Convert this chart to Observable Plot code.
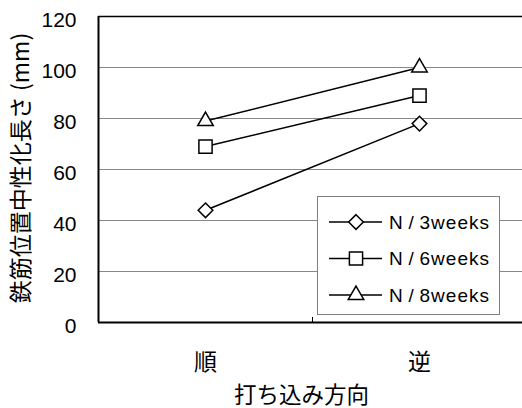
<!DOCTYPE html>
<html>
<head>
<meta charset="utf-8">
<script src="https://cdn.jsdelivr.net/npm/d3@7"></script>
<script src="https://cdn.jsdelivr.net/npm/@observablehq/plot@0.6"></script>
<style>
  html, body { margin: 0; padding: 0; background: #fff; }
  #chart svg { display: block; }
</style>
</head>
<body>
<div id="chart"></div>
<script>
// categories on the x axis
const categories = ["順", "逆"];
// series names
const series = ["N/3weeks", "N/6weeks", "N/8weeks"];
// series values (mm), one per category
const n3weeks = [44, 78];
const n6weeks = [69, 89];
const n8weeks = [79, 100];
// y tick labels
const yTicks = [0, 20, 40, 60, 80, 100, 120];
const yLabel = "鉄筋位置中性化長さ (mm)";
const xLabel = "打ち込み方向";

const seriesValues = [n3weeks, n6weeks, n8weeks];
const symbols = ["diamond2", "square2", "triangle2"];
const symbolR = [6.6, 8.4, 7.4];

const rows = [];
series.forEach((s, si) => {
  categories.forEach((c, ci) => {
    rows.push({series: s, cat: c, value: seriesValues[si][ci]});
  });
});
const xPos = d => categories.indexOf(d.cat) + 0.5;

const numFont = "'Liberation Sans', Arial, sans-serif";
const cjkFont = "'Noto Sans CJK JP', 'Noto Sans CJK SC', sans-serif";

const chart = Plot.plot({
  width: 522,
  height: 408,
  marginLeft: 98,
  marginRight: 0,
  marginTop: 16,
  marginBottom: 86,
  style: {background: "#fff", fontFamily: numFont, color: "#000"},
  x: {type: "linear", domain: [0, categories.length], range: [98, 526]},
  y: {domain: [0, 120], range: [322, 16]},
  symbol: {domain: series, range: symbols},
  marks: [
    Plot.ruleY(yTicks.filter(v => v > 0 && v < 120), {stroke: "#888", strokeWidth: 1}),
    Plot.ruleY([120], {stroke: "#000", strokeWidth: 1.6}),
    Plot.ruleY([0], {stroke: "#000", strokeWidth: 2}),
    Plot.ruleX([0], {stroke: "#000", strokeWidth: 2}),
    Plot.ruleX([1], {y1: 0, y2: 2, stroke: "#000", strokeWidth: 1}),
    Plot.line(rows, {x: xPos, y: "value", z: "series", stroke: "#000", strokeWidth: 1.5}),
    ...series.map((s, i) => Plot.dot(rows.filter(d => d.series === s), {
      x: xPos, y: "value", symbol: "series", r: symbolR[i],
      fill: "#fff", stroke: "#000", strokeWidth: 1.5
    })),
    Plot.axisY({ticks: yTicks, tickSize: 0, tickPadding: 22, fontSize: 21, dy: 3.5, label: null, fontFamily: numFont}),
    Plot.axisX({ticks: categories.map((c, i) => i + 0.5), tickFormat: v => categories[Math.round(v - 0.5)],
      tickSize: 0, tickPadding: 31, fontSize: 23, label: null, fontFamily: cjkFont}),
    Plot.text([xLabel], {frameAnchor: "bottom", textAnchor: "middle", lineAnchor: "middle",
      dx: -9, dy: 73, fontSize: 22.5, fontFamily: cjkFont, fill: "#000"}),
    Plot.text([yLabel], {frameAnchor: "left", textAnchor: "middle", lineAnchor: "middle", rotate: -90,
      dx: -77, dy: -1.5, fontSize: 23, fontFamily: cjkFont, fill: "#000"})
  ]
});

// legend box inside the plot area
const svg = d3.select(chart);
const lg = svg.append("g").attr("class", "legend");
lg.append("rect")
  .attr("x", 317.5).attr("y", 196.5).attr("width", 182).attr("height", 118)
  .attr("fill", "#fff").attr("stroke", "#808080").attr("stroke-width", 1);
const d3Symbols = [d3.symbolDiamond2, d3.symbolSquare2, d3.symbolTriangle2];
series.forEach((s, i) => {
  const y = 222 + i * 36.5;
  lg.append("line").attr("x1", 329).attr("x2", 382).attr("y1", y).attr("y2", y)
    .attr("stroke", "#000").attr("stroke-width", 1.5);
  lg.append("path")
    .attr("d", d3.symbol(d3Symbols[i], Math.PI * symbolR[i] * symbolR[i])())
    .attr("transform", `translate(356,${y})`)
    .attr("fill", "#fff").attr("stroke", "#000").attr("stroke-width", 1.5);
  lg.append("text").attr("x", 389).attr("y", y).attr("dy", "0.36em")
    .attr("text-anchor", "start").attr("letter-spacing", 1).attr("word-spacing", -1.5)
    .attr("font-family", numFont).attr("font-size", 19).attr("fill", "#000")
    .text(s.replace("/", " / "));
});

document.getElementById("chart").appendChild(chart);
</script>
</body>
</html>
